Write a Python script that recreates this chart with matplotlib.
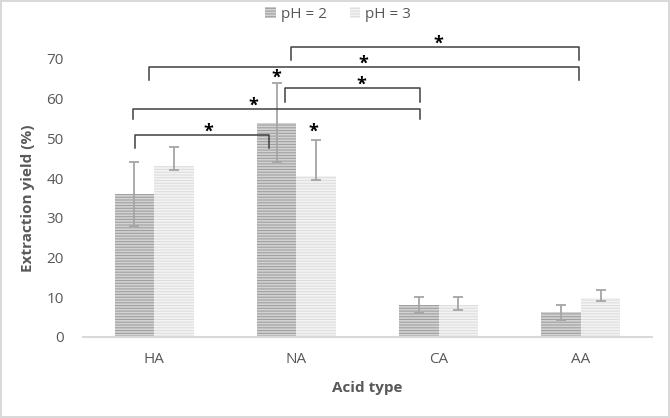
import matplotlib
matplotlib.use("Agg")
import matplotlib.pyplot as plt
import numpy as np

plt.rcParams["font.family"] = ["Open Sans", "DejaVu Sans"]
plt.rcParams["hatch.linewidth"] = 1.2

# Data
acids = ["HA", "NA", "CA", "AA"]
ph2_values = [36.0, 54.0, 8.1, 6.3]
ph3_values = [43.1, 40.5, 8.0, 9.8]
ph2_err_low = [8.0, 10.0, 2.0, 2.0]
ph2_err_high = [8.0, 10.0, 2.0, 1.8]
ph3_err_low = [1.0, 1.0, 1.1, 0.8]
ph3_err_high = [4.8, 9.0, 2.0, 2.1]

# significance brackets: x left, x right, top, leg bottom, star x
brackets = [
    (-0.134, 0.808, 50.9, 47.6, 0.379),
    (-0.148, 1.869, 57.4, 54.9, 0.696),
    (0.921, 1.869, 62.7, 59.2, 1.455),
    (-0.035, 2.987, 68.0, 64.7, 1.469),
    (0.963, 2.987, 73.0, 69.8, 1.996),
]
single_stars = [(0.857, 65.4), (1.117, 51.8)]

text_col = "#595959"

fig = plt.figure(figsize=(6.7, 4.18), dpi=100)
fig.patch.set_edgecolor("#d9d9d9")
fig.patch.set_linewidth(1.5)
ax = fig.add_axes([83 / 670, 1 - 337 / 418, (652 - 83) / 670, (337 - 59) / 418])

x = np.arange(len(acids))
w = 0.278

b1 = ax.bar(x - w / 2, ph2_values, w, color="#a0a0a0", hatch="------",
            edgecolor="#d2d2d2", linewidth=0, label="pH = 2")
b2 = ax.bar(x + w / 2, ph3_values, w, color="#dedede", hatch="------",
            edgecolor="#f3f3f3", linewidth=0, label="pH = 3")

ax.errorbar(x - w / 2, ph2_values, yerr=[ph2_err_low, ph2_err_high], fmt="none",
            ecolor="#a5a5a5", elinewidth=1.3, capsize=3.5, capthick=1.3)
ax.errorbar(x + w / 2, ph3_values, yerr=[ph3_err_low, ph3_err_high], fmt="none",
            ecolor="#a5a5a5", elinewidth=1.3, capsize=3.5, capthick=1.3)

for x1, x2, top, bottom, sx in brackets:
    ax.plot([x1, x1, x2, x2], [bottom, top, top, bottom], color="#404040",
            lw=1.1, clip_on=False, solid_joinstyle="round")
    ax.text(sx, top + 0.8, "*", ha="center", va="center", fontsize=13,
            fontweight="bold", color="black", clip_on=False)
for sx, sy in single_stars:
    ax.text(sx, sy, "*", ha="center", va="center", fontsize=13,
            fontweight="bold", color="black", clip_on=False)

ax.set_xlim(-0.5, 3.5)
ax.set_ylim(0, 70)
ax.set_yticks(range(0, 71, 10))
ax.set_xticks(x)
ax.set_xticklabels(acids)
ax.tick_params(length=0, colors=text_col, labelsize=11)
ax.tick_params(axis="y", pad=14)
ax.tick_params(axis="x", pad=11)
for s in ["top", "right", "left"]:
    ax.spines[s].set_visible(False)
ax.spines["bottom"].set_color("#d9d9d9")
ax.spines["bottom"].set_linewidth(1.5)

ax.set_ylabel("Extraction yield (%)", fontsize=11, fontweight="bold", color=text_col, labelpad=8)
ax.set_xlabel("Acid type", fontsize=11, fontweight="bold", color=text_col, labelpad=10)

fig.legend(handles=[b1, b2], loc="center", bbox_to_anchor=(338 / 670, 1 - 14 / 418),
           ncol=2, frameon=False, fontsize=11, labelcolor=text_col,
           handlelength=0.7, handleheight=0.7, handletextpad=0.3, columnspacing=1.5)

fig.savefig("out.png", dpi=100)
